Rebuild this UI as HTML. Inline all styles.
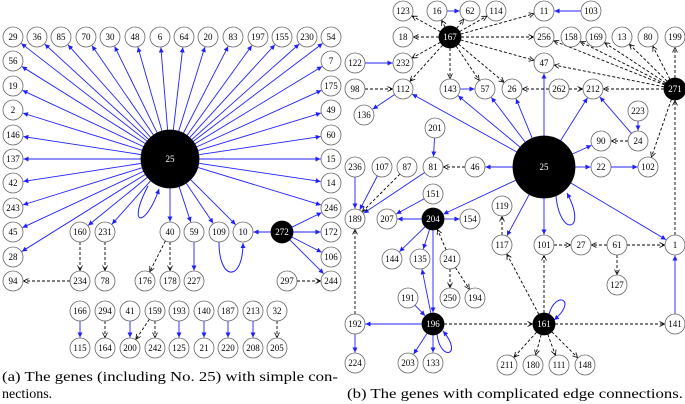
<!DOCTYPE html>
<html><head><meta charset="utf-8"><style>
html,body{margin:0;padding:0;background:#fff;}
svg{display:block;font-family:"Liberation Serif",serif;}
.n circle{fill:#fff;stroke:#666;stroke-width:0.8;}
.n text{font-size:9px;text-anchor:middle;dominant-baseline:central;fill:#000;}
.k circle{fill:#000;stroke:#000;}
.k text{fill:#fff;}
.cap{font-size:14px;fill:#000;}
</style></head><body>
<svg id="s" width="685" height="404" viewBox="0 0 685 404">
<defs>
<marker id="mb" markerWidth="6" markerHeight="6" refX="5" refY="3" orient="auto" markerUnits="userSpaceOnUse"><path d="M0,0.5 L5,3 L0,5.5 z" fill="#2020ff"/></marker>
<marker id="mk" markerWidth="6" markerHeight="6" refX="5" refY="3" orient="auto" markerUnits="userSpaceOnUse"><path d="M0,0.5 L5,3 L0,5.5" fill="none" stroke="#000" stroke-width="0.8"/></marker>
</defs>
<g id="edges"></g>
<g id="loops" fill="none" stroke="#2020ff" stroke-width="1">
<path d="M148,186 C126,228 146,228 159,189" marker-end="url(#mb)"/>
<path d="M219,242 C219,282 243,282 243,243" marker-end="url(#mb)"/>
<path d="M556,196 C560,238 588,232 567,193" marker-end="url(#mb)"/>
<path d="M437,334 C440,362 464,356 443,331" marker-end="url(#mb)"/>
<path d="M549,314 C556,290 578,300 554,320" marker-end="url(#mb)"/>
</g>
<g id="nodes"></g>
<text class="cap" x="2" y="381" textLength="336" lengthAdjust="spacingAndGlyphs">(a) The genes (including No. 25) with simple con-</text>
<text class="cap" x="2" y="398">nections.</text>
<text class="cap" x="347" y="398" textLength="336" lengthAdjust="spacingAndGlyphs">(b) The genes with complicated edge connections.</text>
</svg>
<script>
var N={
a29:[13,37],a36:[37,37],a85:[61,37],a70:[86,37],a30:[110,37],a48:[135,37],a6:[160,37],a64:[184,37],a20:[208,37],a83:[233,37],a197:[258,37],a155:[282,37],a230:[307,37],a54:[331,37],
a56:[13,61],a19:[13,86],a2:[13,110],a146:[13,135],a137:[13,159],a42:[13,183],a243:[13,208],a45:[13,232],a28:[13,257],a94:[13,281],
a7:[331,61],a175:[331,86],a49:[331,110],a60:[331,135],a15:[331,159],a14:[331,183],a246:[331,208],a172:[331,232],a106:[331,257],a244:[331,281],
a25:[170,159,29,1],
a160:[80,232],a231:[105,232],a40:[170,232],a59:[194,232],a109:[219,232],a10:[243,232],a272:[282,232,11,1],
a234:[80,281],a78:[105,281],a176:[145,281],a178:[170,281],a227:[194,281],a297:[287,281],
a166:[80,311],a294:[105,311],a41:[130,311],a159:[155,311],a193:[179,311],a140:[204,311],a187:[228,311],a213:[253,311],a32:[277,311],
a115:[80,348],a164:[105,348],a200:[130,348],a242:[155,348],a125:[179,348],a21:[204,348],a220:[228,348],a208:[253,348],a205:[277,348],
b123:[403,11],b16:[437,11],b62:[470,11],b114:[496,11],b11:[544,11],b103:[591,11],
b167:[450,37,11,1],b18:[403,37],b256:[544,37],b158:[571,37],b169:[596,37],b13:[622,37],b80:[648,37],b199:[675,37],
b122:[355,63],b232:[403,63],b47:[544,63],
b98:[355,89],b112:[403,89],b143:[450,89],b57:[485,89],b26:[512,89],b262:[559,89],b212:[593,89],b271:[675,89,11,1],
b136:[364,115],b223:[638,111],b201:[435,128],b90:[601,141],b24:[638,141],
b236:[355,167],b107:[382,167],b87:[407,167],b81:[433,167],b46:[475,167],b25:[544,167,31,1],b22:[601,167],b102:[648,167],
b151:[433,194],b189:[355,219],b207:[387,219],b204:[433,219,11,1],b154:[470,219],b119:[502,206],
b117:[502,245],b101:[544,245],b27:[581,245],b61:[617,245],b1:[675,245],
b144:[392,259],b135:[420,259],b241:[450,259],b127:[617,285],
b191:[408,298],b250:[450,298],b194:[475,298],
b192:[355,324],b196:[433,324,11,1],b161:[544,324,11,1],b141:[675,324],
b224:[355,363],b203:[408,363],b133:[433,363],b211:[507,365],b180:[533,365],b111:[559,365],b148:[585,365]
};
var B=[],D=[];
function bl(p,s){s.split(' ').forEach(function(x){var t=x.split('>');B.push([p+t[0],p+t[1]]);});}
function dl(p,s){s.split(' ').forEach(function(x){var t=x.split('>');D.push([p+t[0],p+t[1]]);});}
"29 36 85 70 30 48 6 64 20 83 197 155 230 54 56 19 2 146 137 42 243 45 28 7 175 49 60 15 14 246 160 231 40 59 109 10".split(' ').forEach(function(t){B.push(['a25','a'+t]);});
bl('a','272>10 272>246 272>172 272>106 272>244 59>227 166>115 41>200 193>125 140>21 187>220 213>208');
dl('a','160>234 231>78 40>176 40>178 234>94 297>244 294>164 159>200 159>242 32>205');
"123 16 62 114 11 18 256 232 112 143 57 26 47".split(' ').forEach(function(t){D.push(['b167','b'+t]);});
"256 158 169 13 80 199 47 212 102".split(' ').forEach(function(t){D.push(['b271','b'+t]);});
"112 143 57 26 47 212 90 22 46 204 117 101 1".split(' ').forEach(function(t){B.push(['b25','b'+t]);});
bl('b','16>62 103>11 122>232 112>136 143>57 223>24 24>212 22>102 201>81 81>189 236>189 107>189 151>207 204>207 204>154 204>144 204>135 204>196 196>135 191>196 196>192 196>203 196>133 192>224 141>1');
dl('b','98>112 262>26 262>212 1>271 24>90 46>81 87>189 241>204 241>250 241>194 196>161 192>189 117>119 161>117 161>101 161>211 161>180 161>111 161>148 161>141 101>27 61>27 61>1 61>127');
var ns='http://www.w3.org/2000/svg',E=document.getElementById('edges');
function r(k){return N[k][2]||10;}
function draw(e,dash){var a=N[e[0]],b=N[e[1]];var dx=b[0]-a[0],dy=b[1]-a[1],L=Math.sqrt(dx*dx+dy*dy),ux=dx/L,uy=dy/L;
var l=document.createElementNS(ns,'line');var ra=r(e[0]),rb=r(e[1])+0.5;
l.setAttribute('x1',a[0]+ux*ra);l.setAttribute('y1',a[1]+uy*ra);l.setAttribute('x2',b[0]-ux*rb);l.setAttribute('y2',b[1]-uy*rb);
if(dash){l.setAttribute('stroke','#000');l.setAttribute('stroke-dasharray','3,2');l.setAttribute('marker-end','url(#mk)');}
else{l.setAttribute('stroke','#2020ff');l.setAttribute('marker-end','url(#mb)');}
l.setAttribute('stroke-width','0.9');E.appendChild(l);}
B.forEach(function(e){draw(e,0);});D.forEach(function(e){draw(e,1);});
var G=document.getElementById('nodes');
for(var k in N){var v=N[k];var g=document.createElementNS(ns,'g');g.setAttribute('class',v[3]?'n k':'n');
var c=document.createElementNS(ns,'circle');c.setAttribute('cx',v[0]);c.setAttribute('cy',v[1]);c.setAttribute('r',r(k));g.appendChild(c);
var t=document.createElementNS(ns,'text');t.setAttribute('x',v[0]);t.setAttribute('y',v[1]);t.textContent=k.slice(1);g.appendChild(t);G.appendChild(g);}
</script>
</body></html>
